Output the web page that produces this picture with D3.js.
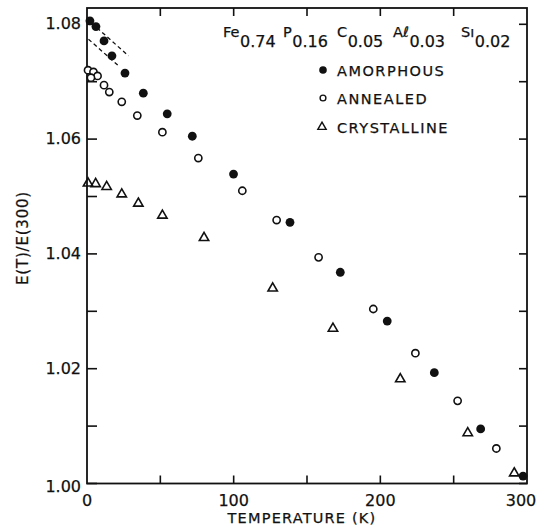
<!DOCTYPE html>
<html>
<head>
<meta charset="utf-8">
<script src="https://cdn.jsdelivr.net/npm/d3@7"></script>
<style>
  body { margin: 0; background: #fff; }
  text { font-family: "DejaVu Sans", sans-serif; fill: #111; stroke: #111; stroke-width: 0.25; }
</style>
</head>
<body>
<div id="chart"></div>
<script>
// temperatures (K) and E(T)/E(300)
const amorphousT = [2.0, 6.1, 11.6, 17.0, 25.9, 38.4, 54.7, 71.8, 99.9, 138.4, 172.7, 204.7, 236.8, 268.4, 297.3];
const amorphousE = [1.0806, 1.0796, 1.0771, 1.0745, 1.0715, 1.0680, 1.0644, 1.0605, 1.0539, 1.0455, 1.0368, 1.0283, 1.0193, 1.0095, 1.0013];

const annealedT = [0.7, 4.4, 7.2, 2.7, 11.6, 15.2, 23.7, 34.3, 51.4, 75.9, 105.9, 129.3, 157.9, 195.2, 223.9, 252.7, 279.1];
const annealedE = [1.0720, 1.0717, 1.0710, 1.0707, 1.0694, 1.0682, 1.0665, 1.0641, 1.0612, 1.0567, 1.0510, 1.0459, 1.0394, 1.0304, 1.0227, 1.0144, 1.0061];

const crystallineT = [0.7, 5.9, 13.4, 23.7, 35.0, 51.4, 79.8, 126.6, 167.7, 213.6, 259.6, 291.3];
const crystallineE = [1.0523, 1.0522, 1.0517, 1.0504, 1.0488, 1.0467, 1.0428, 1.0340, 1.0270, 1.0182, 1.0088, 1.0018];

// two dashed slope guides at low T
const guideLines = [
  [[6.8, 1.0794], [28.3, 1.0745]],
  [[1.0, 1.0774], [21.8, 1.0727]]
];

const xTickLabels = [0, 100, 200, 300];
const xTicks = [0, 50, 100, 150, 200, 250, 300];
const yTickLabels = [1.00, 1.02, 1.04, 1.06, 1.08];
const yTicks = [1.00, 1.01, 1.02, 1.03, 1.04, 1.05, 1.06, 1.07, 1.08];

const legendItems = ["AMORPHOUS", "ANNEALED", "CRYSTALLINE"];
const formula = [["Fe", "0.74"], ["P", "0.16"], ["C", "0.05"], ["A\u2113", "0.03"], ["S\u0131", "0.02"]];

const width = 547, height = 527;
const plot = { left: 87, right: 527, top: 8, bottom: 483.5 };

const svg = d3.select("#chart").append("svg")
  .attr("width", width).attr("height", height);

const x = d3.scaleLinear().domain([0, 300]).range([plot.left, plot.right]);
const y = d3.scaleLinear().domain([1.00, 1.08]).range([plot.bottom, 24.3]);

// frame
svg.append("rect")
  .attr("x", plot.left).attr("y", plot.top)
  .attr("width", plot.right - plot.left).attr("height", plot.bottom - plot.top)
  .attr("fill", "none").attr("stroke", "#111").attr("stroke-width", 1.8);

// inward ticks
const tickG = svg.append("g").attr("stroke", "#111").attr("stroke-width", 1.6);
tickG.selectAll(".tl").data(yTicks).join("line")
  .attr("x1", plot.left).attr("x2", plot.left + 10)
  .attr("y1", d => y(d)).attr("y2", d => y(d));
tickG.selectAll(".tr").data(yTicks).join("line")
  .attr("x1", plot.right).attr("x2", plot.right - 8)
  .attr("y1", d => y(d)).attr("y2", d => y(d));
tickG.selectAll(".tb").data(xTicks.slice(1, -1)).join("line")
  .attr("x1", d => x(d)).attr("x2", d => x(d))
  .attr("y1", plot.bottom).attr("y2", plot.bottom - 8);
tickG.selectAll(".tt").data(xTicks.slice(1, -1)).join("line")
  .attr("x1", d => x(d)).attr("x2", d => x(d))
  .attr("y1", plot.top).attr("y2", plot.top + 8);

// tick labels
svg.selectAll(".ylab").data(yTickLabels).join("text")
  .attr("x", plot.left - 6).attr("y", d => y(d) + 5 + (d === 1 ? 3 : 0))
  .attr("text-anchor", "end").attr("font-size", 16)
  .text(d3.format(".2f"));
svg.selectAll(".xlab").data(xTickLabels).join("text")
  .attr("x", d => x(d) - (d === 300 ? 6 : 0)).attr("y", plot.bottom + 22)
  .attr("text-anchor", "middle").attr("font-size", 16)
  .text(d => d);

// axis titles
svg.append("text")
  .attr("x", 302).attr("y", 523)
  .attr("text-anchor", "middle").attr("font-size", 14.5).attr("letter-spacing", 1.2)
  .text("TEMPERATURE (K)");
svg.append("text")
  .attr("transform", "translate(28,238) rotate(-90)")
  .attr("text-anchor", "middle").attr("font-size", 15).attr("letter-spacing", 0.8)
  .text("E(T)/E(300)");

// dashed guides
const line = d3.line().x(d => x(d[0])).y(d => y(d[1]));
svg.selectAll(".guide").data(guideLines).join("path")
  .attr("d", line)
  .attr("fill", "none").attr("stroke", "#111").attr("stroke-width", 1.3)
  .attr("stroke-dasharray", "4,3");

// data marks
const tri = d3.symbol(d3.symbolTriangle).size(38);
const toPts = (ts, es) => ts.map((t, i) => [t, es[i]]);

svg.selectAll(".cry").data(toPts(crystallineT, crystallineE)).join("path")
  .attr("d", tri)
  .attr("transform", d => `translate(${x(d[0])},${y(d[1])})`)
  .attr("fill", "none").attr("stroke", "#111").attr("stroke-width", 1.6);

svg.selectAll(".ann").data(toPts(annealedT, annealedE)).join("circle")
  .attr("cx", d => x(d[0])).attr("cy", d => y(d[1])).attr("r", 3.6)
  .attr("fill", "#fff").attr("stroke", "#111").attr("stroke-width", 1.6);

svg.selectAll(".amo").data(toPts(amorphousT, amorphousE)).join("circle")
  .attr("cx", d => x(d[0])).attr("cy", d => y(d[1])).attr("r", 4.4)
  .attr("fill", "#111");

// formula title
const ft = svg.append("text");
const formulaX = [223, 283, 337, 393, 461];
formula.forEach(([el, sub], i) => {
  ft.append("tspan").attr("x", formulaX[i]).attr("y", 37).attr("font-size", 14.5).text(el);
  ft.append("tspan").attr("y", 47).attr("font-size", 16).attr("dx", 0.5).text(sub);
});

// legend
const legY = [70, 98, 127];
const leg = svg.append("g");
legendItems.forEach((name, i) => {
  const cy = legY[i];
  if (i === 0) leg.append("circle").attr("cx", 323).attr("cy", cy).attr("r", 3.8).attr("fill", "#111");
  if (i === 1) leg.append("circle").attr("cx", 323).attr("cy", cy).attr("r", 2.9)
    .attr("fill", "none").attr("stroke", "#111").attr("stroke-width", 1.4);
  if (i === 2) leg.append("path").attr("d", d3.symbol(d3.symbolTriangle).size(30))
    .attr("transform", `translate(322,${cy})`)
    .attr("fill", "none").attr("stroke", "#111").attr("stroke-width", 1.4);
  leg.append("text").attr("x", 337).attr("y", cy + 6)
    .attr("font-size", 14.5).attr("letter-spacing", 1.5).text(name);
});
</script>
</body>
</html>
